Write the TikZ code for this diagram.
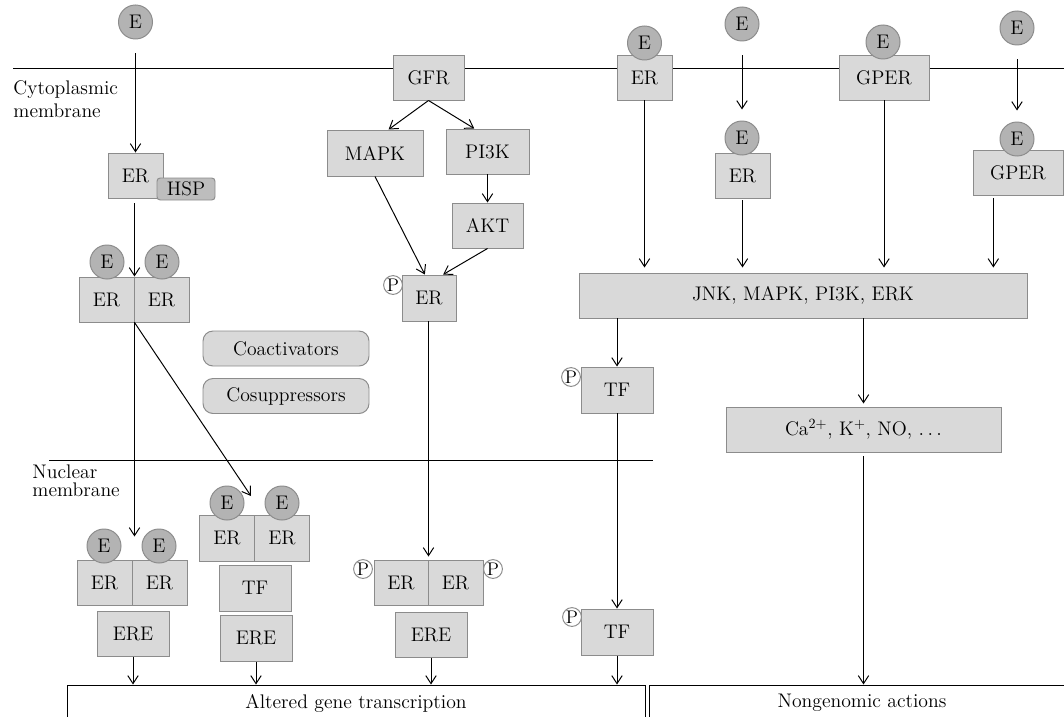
\documentclass[tikz,border=0pt]{standalone}
\usetikzlibrary{arrows.meta}
\definecolor{boxgray}{HTML}{D9D9D9}
\definecolor{edgegray}{HTML}{8C8C8C}
\definecolor{ligandgray}{HTML}{B3B3B3}
\definecolor{hspgray}{HTML}{BDBDBD}
\begin{document}
\begin{tikzpicture}[x=0.025cm, y=-0.025cm, line width=0.7pt,
		font=\fontsize{14}{16}\selectfont,
		box/.style={rectangle, draw=edgegray, fill=boxgray, inner sep=0pt},
		sz/.style 2 args={minimum width=#1*0.025cm, minimum height=#2*0.025cm},
		ligand/.style={circle, draw=edgegray, fill=ligandgray, minimum size=0.85cm, inner sep=0pt},
		phos/.style={circle, draw=edgegray, fill=white, minimum size=0.47cm, inner sep=0pt, font=\fontsize{13}{13}\selectfont},
		cofactor/.style={box, rounded corners=0.25cm, sz={166}{35}},
		arr/.style={-{Straight Barb[length=2mm, width=2.6mm]}},
		outcome/.style={rectangle, draw, inner sep=0pt, sz={#1}{36}}
		]
	\useasboundingbox (0,0) rectangle (1064,716);
	% membranes
	\draw (13,68) -- (1064,68);
	\draw (49,460) -- (653,460);
	\node[anchor=west, align=left, inner sep=0pt, font=\fontsize{14}{16.5}\selectfont] (cytlabel) at (13,99) {Cytoplasmic\\membrane};
	\node[anchor=west, align=left, inner sep=0pt, font=\fontsize{14}{13}\selectfont] (nuclabel) at (32,481) {Nuclear\\membrane};

	% classical pathway
	\node[ligand] (eFree1) at (135.5,22) {E};
	\node[box, sz={55}{45}] (erHsp) at (135.5,175.5) {ER};
	\node[box, fill=hspgray, rounded corners=0.08cm, sz={58}{22}] (hsp) at (186,189) {HSP};
	\node[box, sz={55}{45}] (erDimA1) at (106.5,299.5) {ER};
	\node[box, sz={55}{45}] (erDimA2) at (161.5,299.5) {ER};
	\node[ligand] (eDimA1) at (107,262) {E};
	\node[ligand] (eDimA2) at (162,262) {E};
	\node[cofactor] (coact) at (286,348.5) {Coactivators};
	\node[cofactor] (cosup) at (286,396) {Cosuppressors};

	\node[box, sz={55}{45}] (erDimB1) at (104.5,582.5) {ER};
	\node[box, sz={55}{45}] (erDimB2) at (159.5,582.5) {ER};
	\node[ligand] (eDimB1) at (104,546) {E};
	\node[ligand] (eDimB2) at (159,546) {E};
	\node[box, sz={72}{45}] (ereB) at (133,633.5) {ERE};

	\node[box, sz={55}{46}] (erDimC1) at (227,538) {ER};
	\node[box, sz={55}{46}] (erDimC2) at (282,538) {ER};
	\node[ligand] (eDimC1) at (227,503) {E};
	\node[ligand] (eDimC2) at (282,503) {E};
	\node[box, sz={72}{46}] (tfC) at (255,588) {TF};
	\node[box, sz={72}{46}] (ereC) at (256,638) {ERE};
	\coordinate (tipC) at (251,496);

	% growth factor pathway
	\node[box, sz={71}{45}] (gfr) at (428.5,77.5) {GFR};
	\node[box, sz={96}{46}] (mapk) at (375,153) {MAPK};
	\node[box, sz={83}{45}] (pi3k) at (487.5,151.5) {PI3K};
	\node[box, sz={71}{45}] (akt) at (487.5,225.5) {AKT};
	\node[box, sz={54}{46}] (erP) at (429,298) {ER};
	\node[phos] (pP) at (393,285) {P};
	\node[box, sz={54}{45}] (erDimD1) at (401,582.5) {ER};
	\node[box, sz={55}{45}] (erDimD2) at (455.5,582.5) {ER};
	\node[phos] (pD1) at (363,569) {P};
	\node[phos] (pD2) at (493,569) {P};
	\node[box, sz={72}{45}] (ereD) at (431,634.5) {ERE};

	% nongenomic pathway
	\node[box, sz={55}{45}] (erMem) at (644.5,77.5) {ER};
	\node[ligand] (eMem) at (644.5,43) {E};
	\node[ligand] (eFree2) at (742,24) {E};
	\node[box, sz={55}{45}] (erCyt) at (742.5,175.5) {ER};
	\node[ligand] (eCyt) at (742,138) {E};
	\node[box, sz={90}{45}] (gperMem) at (884,77.5) {GPER};
	\node[ligand] (eGper) at (883,42) {E};
	\node[ligand] (eFree3) at (1017,28) {E};
	\node[box, sz={90}{45}] (gperCyt) at (1018,172.5) {GPER};
	\node[ligand] (eGcyt) at (1017,139) {E};
	\node[box, sz={448}{45}] (jnk) at (803,295.5) {JNK, MAPK, PI3K, ERK};
	\node[box, sz={72}{46}] (tf1) at (617,390) {TF};
	\node[phos] (pTf1) at (571,377) {P};
	\node[box, sz={72}{46}] (tf2) at (617,632) {TF};
	\node[phos] (pTf2) at (572,617) {P};
	\node[box, sz={275}{45}] (ions) at (863.5,429.5) {Ca$^{2+}$, K$^{+}$, NO, $\ldots$};

	% outcomes
	\node[outcome=578] (gene) at (356,703) {Altered gene transcription};
	\node[outcome=426] (nongen) at (862,703) {Nongenomic actions};

	% connectors
	\draw[arr, shorten <=0.35cm] (eFree1) -- (erHsp);
	\draw[arr, shorten <=0.125cm] (erHsp.south -| erDimA1.north east) -- (erDimA1.north east);
	\draw[arr, shorten >=0.575cm] (erDimA1.south east) -- (erDimA1.south east |- erDimB1.north);
	\draw[arr] (erDimA1.south east) -- (tipC);
	\draw[arr] (ereB) -- (ereB |- gene.north);
	\draw[arr] (ereC) -- (ereC |- gene.north);

	\draw[arr] (gfr.south) -- (mapk.60);
	\draw[arr] (gfr.south) -- (pi3k.120);
	\draw[arr] (pi3k) -- (akt);
	\draw[arr] (mapk.south) -- (erP.100);
	\draw[arr] (akt.south) -- (erP.59);
	\draw[arr, shorten >=0.075cm] (erP.south -| erDimD1.north east) -- (erDimD1.north east);
	\draw[arr] (ereD) -- (ereD |- gene.north);

	\draw[arr, shorten >=0.125cm] (erMem) -- (erMem |- jnk.north);
	\draw[arr, shorten <=0.35cm, shorten >=0.275cm] (eFree2) -- (eCyt);
	\draw[arr, shorten <=0.05cm, shorten >=0.125cm] (erCyt) -- (erCyt |- jnk.north);
	\draw[arr, shorten >=0.125cm] (gperMem) -- (gperMem |- jnk.north);
	\draw[arr, shorten <=0.35cm, shorten >=0.275cm] (eFree3) -- (eGcyt);
	\draw[arr, shorten <=0.075cm, shorten >=0.125cm] (gperCyt.223) -- (gperCyt.223 |- jnk.north);
	\draw[arr] (jnk.south -| tf1.north) -- (tf1.north);
	\draw[arr] (tf1) -- (tf2);
	\draw[arr] (tf2) -- (tf2 |- gene.north);
	\draw[arr, shorten >=0.075cm] (jnk.south -| ions.north) -- (ions.north);
	\draw[arr, shorten <=0.1cm] (ions) -- (ions |- nongen.north);
\end{tikzpicture}
\end{document}
